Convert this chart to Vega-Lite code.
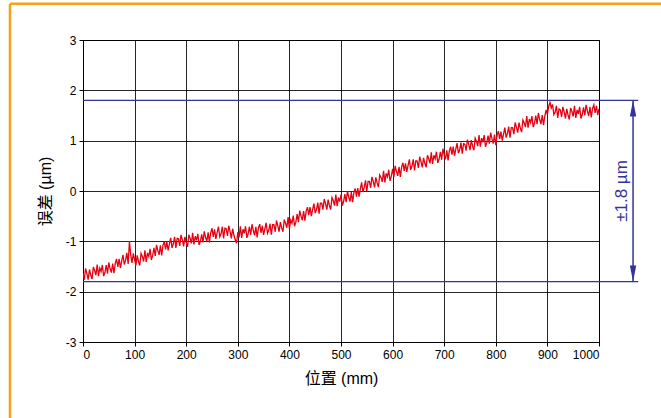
{
  "$schema": "https://vega.github.io/schema/vega-lite/v6.json",
  "width": 516,
  "height": 302,
  "autosize": {"type": "none"},
  "padding": {"left": 83, "top": 40, "right": 62, "bottom": 76},
  "background": "white",
  "config": {
    "view": {"stroke": "#000000", "strokeWidth": 1},
    "font": "Liberation Sans",
    "axis": {
      "grid": true,
      "gridColor": "#000000",
      "gridOpacity": 0.85,
      "gridWidth": 1,
      "domain": true,
      "domainColor": "#000000",
      "tickColor": "#000000",
      "tickSize": 4,
      "labelFont": "Liberation Sans",
      "labelFontSize": 12,
      "labelColor": "#000000",
      "labelExpr": "datum.value + ''",
      "titleFont": "Liberation Sans, Noto Sans CJK SC",
      "titleFontSize": 16,
      "titleFontWeight": "normal",
      "titleColor": "#000000"
    }
  },
  "datasets": {
    "curve": [
{"pos":0,"err":-1.63},{"pos":2.5,"err":-1.76},{"pos":5,"err":-1.54},{"pos":7.5,"err":-1.64},{"pos":10,"err":-1.76},{"pos":12.5,"err":-1.56},{"pos":15,"err":-1.67},{"pos":17.5,"err":-1.75},{"pos":20,"err":-1.51},{"pos":22.5,"err":-1.58},
{"pos":25,"err":-1.67},{"pos":27.5,"err":-1.46},{"pos":30,"err":-1.69},{"pos":32.5,"err":-1.53},{"pos":35,"err":-1.6},{"pos":37.5,"err":-1.47},{"pos":40,"err":-1.69},{"pos":42.5,"err":-1.62},{"pos":45,"err":-1.47},{"pos":47.5,"err":-1.64},
{"pos":50,"err":-1.42},{"pos":52.5,"err":-1.54},{"pos":55,"err":-1.62},{"pos":57.5,"err":-1.44},{"pos":60,"err":-1.63},{"pos":62.5,"err":-1.44},{"pos":65,"err":-1.35},{"pos":67.5,"err":-1.51},{"pos":70,"err":-1.35},{"pos":72.5,"err":-1.53},
{"pos":75,"err":-1.39},{"pos":77.5,"err":-1.27},{"pos":80,"err":-1.46},{"pos":82.5,"err":-1.38},{"pos":85,"err":-1.23},{"pos":87.5,"err":-1.45},{"pos":90,"err":-1.0},{"pos":92.5,"err":-1.27},{"pos":95,"err":-1.43},{"pos":97.5,"err":-1.24},
{"pos":100,"err":-1.36},{"pos":102.5,"err":-1.48},{"pos":105,"err":-1.28},{"pos":107.5,"err":-1.4},{"pos":110,"err":-1.48},{"pos":112.5,"err":-1.24},{"pos":115,"err":-1.3},{"pos":117.5,"err":-1.4},{"pos":120,"err":-1.18},{"pos":122.5,"err":-1.41},
{"pos":125,"err":-1.23},{"pos":127.5,"err":-1.3},{"pos":130,"err":-1.15},{"pos":132.5,"err":-1.37},{"pos":135,"err":-1.28},{"pos":137.5,"err":-1.13},{"pos":140,"err":-1.29},{"pos":142.5,"err":-1.07},{"pos":145,"err":-1.18},{"pos":147.5,"err":-1.27},
{"pos":150,"err":-1.08},{"pos":152.5,"err":-1.28},{"pos":155,"err":-1.08},{"pos":157.5,"err":-1.0},{"pos":160,"err":-1.16},{"pos":162.5,"err":-1.01},{"pos":165,"err":-1.18},{"pos":167.5,"err":-1.05},{"pos":170,"err":-0.93},{"pos":172.5,"err":-1.13},
{"pos":175,"err":-1.05},{"pos":177.5,"err":-0.91},{"pos":180,"err":-1.13},{"pos":182.5,"err":-0.94},{"pos":185,"err":-0.95},{"pos":187.5,"err":-1.09},{"pos":190,"err":-0.87},{"pos":192.5,"err":-0.97},{"pos":195,"err":-1.1},{"pos":197.5,"err":-0.91},
{"pos":200,"err":-1.02},{"pos":202.5,"err":-1.11},{"pos":205,"err":-0.87},{"pos":207.5,"err":-0.94},{"pos":210,"err":-1.04},{"pos":212.5,"err":-0.83},{"pos":215,"err":-1.06},{"pos":217.5,"err":-0.9},{"pos":220,"err":-0.98},{"pos":222.5,"err":-0.85},
{"pos":225,"err":-1.07},{"pos":227.5,"err":-1.0},{"pos":230,"err":-0.86},{"pos":232.5,"err":-1.02},{"pos":235,"err":-0.8},{"pos":237.5,"err":-0.92},{"pos":240,"err":-1.0},{"pos":242.5,"err":-0.82},{"pos":245,"err":-1.02},{"pos":247.5,"err":-0.83},
{"pos":250,"err":-0.74},{"pos":252.5,"err":-0.91},{"pos":255,"err":-0.76},{"pos":257.5,"err":-0.95},{"pos":260,"err":-0.82},{"pos":262.5,"err":-0.71},{"pos":265,"err":-0.91},{"pos":267.5,"err":-0.85},{"pos":270,"err":-0.71},{"pos":272.5,"err":-0.94},
{"pos":275,"err":-0.74},{"pos":277.5,"err":-0.75},{"pos":280,"err":-0.89},{"pos":282.5,"err":-0.69},{"pos":285,"err":-0.8},{"pos":287.5,"err":-0.94},{"pos":290,"err":-0.75},{"pos":292.5,"err":-0.88},{"pos":295,"err":-0.97},{"pos":297.5,"err":-1.04},
{"pos":300,"err":-0.82},{"pos":302.5,"err":-0.92},{"pos":305,"err":-0.7},{"pos":307.5,"err":-0.93},{"pos":310,"err":-0.76},{"pos":312.5,"err":-0.84},{"pos":315,"err":-0.7},{"pos":317.5,"err":-0.93},{"pos":320,"err":-0.85},{"pos":322.5,"err":-0.71},
{"pos":325,"err":-0.87},{"pos":327.5,"err":-0.66},{"pos":330,"err":-0.78},{"pos":332.5,"err":-0.88},{"pos":335,"err":-0.71},{"pos":337.5,"err":-0.92},{"pos":340,"err":-0.73},{"pos":342.5,"err":-0.66},{"pos":345,"err":-0.83},{"pos":347.5,"err":-0.69},
{"pos":350,"err":-0.87},{"pos":352.5,"err":-0.75},{"pos":355,"err":-0.63},{"pos":357.5,"err":-0.84},{"pos":360,"err":-0.78},{"pos":362.5,"err":-0.65},{"pos":365,"err":-0.87},{"pos":367.5,"err":-0.67},{"pos":370,"err":-0.67},{"pos":372.5,"err":-0.81},
{"pos":375,"err":-0.59},{"pos":377.5,"err":-0.69},{"pos":380,"err":-0.81},{"pos":382.5,"err":-0.62},{"pos":385,"err":-0.73},{"pos":387.5,"err":-0.81},{"pos":390,"err":-0.57},{"pos":392.5,"err":-0.64},{"pos":395,"err":-0.73},{"pos":397.5,"err":-0.52},
{"pos":400,"err":-0.75},{"pos":402.5,"err":-0.58},{"pos":405,"err":-0.64},{"pos":407.5,"err":-0.49},{"pos":410,"err":-0.7},{"pos":412.5,"err":-0.62},{"pos":415,"err":-0.46},{"pos":417.5,"err":-0.62},{"pos":420,"err":-0.39},{"pos":422.5,"err":-0.5},
{"pos":425,"err":-0.58},{"pos":427.5,"err":-0.4},{"pos":430,"err":-0.59},{"pos":432.5,"err":-0.4},{"pos":435,"err":-0.32},{"pos":437.5,"err":-0.48},{"pos":440,"err":-0.32},{"pos":442.5,"err":-0.5},{"pos":445,"err":-0.37},{"pos":447.5,"err":-0.25},
{"pos":450,"err":-0.44},{"pos":452.5,"err":-0.37},{"pos":455,"err":-0.23},{"pos":457.5,"err":-0.45},{"pos":460,"err":-0.24},{"pos":462.5,"err":-0.24},{"pos":465,"err":-0.37},{"pos":467.5,"err":-0.16},{"pos":470,"err":-0.25},{"pos":472.5,"err":-0.37},
{"pos":475,"err":-0.17},{"pos":477.5,"err":-0.29},{"pos":480,"err":-0.37},{"pos":482.5,"err":-0.13},{"pos":485,"err":-0.19},{"pos":487.5,"err":-0.29},{"pos":490,"err":-0.07},{"pos":492.5,"err":-0.3},{"pos":495,"err":-0.13},{"pos":497.5,"err":-0.21},
{"pos":500,"err":-0.07},{"pos":502.5,"err":-0.29},{"pos":505,"err":-0.21},{"pos":507.5,"err":-0.06},{"pos":510,"err":-0.22},{"pos":512.5,"err":0.0},{"pos":515,"err":-0.12},{"pos":517.5,"err":-0.21},{"pos":520,"err":-0.02},{"pos":522.5,"err":-0.22},
{"pos":525,"err":-0.03},{"pos":527.5,"err":0.05},{"pos":530,"err":-0.11},{"pos":532.5,"err":0.06},{"pos":535,"err":-0.11},{"pos":537.5,"err":0.04},{"pos":540,"err":0.17},{"pos":542.5,"err":-0.02},{"pos":545,"err":0.07},{"pos":547.5,"err":0.21},
{"pos":550,"err":-0.01},{"pos":552.5,"err":0.19},{"pos":555,"err":0.19},{"pos":557.5,"err":0.06},{"pos":560,"err":0.28},{"pos":562.5,"err":0.19},{"pos":565,"err":0.07},{"pos":567.5,"err":0.27},{"pos":570,"err":0.16},{"pos":572.5,"err":0.08},
{"pos":575,"err":0.32},{"pos":577.5,"err":0.27},{"pos":580,"err":0.18},{"pos":582.5,"err":0.4},{"pos":585,"err":0.17},{"pos":587.5,"err":0.35},{"pos":590,"err":0.28},{"pos":592.5,"err":0.42},{"pos":595,"err":0.2},{"pos":597.5,"err":0.29},
{"pos":600,"err":0.44},{"pos":602.5,"err":0.28},{"pos":605,"err":0.5},{"pos":607.5,"err":0.39},{"pos":610,"err":0.3},{"pos":612.5,"err":0.48},{"pos":615,"err":0.28},{"pos":617.5,"err":0.48},{"pos":620,"err":0.56},{"pos":622.5,"err":0.4},
{"pos":625,"err":0.55},{"pos":627.5,"err":0.38},{"pos":630,"err":0.51},{"pos":632.5,"err":0.63},{"pos":635,"err":0.42},{"pos":637.5,"err":0.49},{"pos":640,"err":0.63},{"pos":642.5,"err":0.41},{"pos":645,"err":0.6},{"pos":647.5,"err":0.6},
{"pos":650,"err":0.46},{"pos":652.5,"err":0.68},{"pos":655,"err":0.59},{"pos":657.5,"err":0.47},{"pos":660,"err":0.66},{"pos":662.5,"err":0.55},{"pos":665,"err":0.47},{"pos":667.5,"err":0.71},{"pos":670,"err":0.64},{"pos":672.5,"err":0.55},
{"pos":675,"err":0.77},{"pos":677.5,"err":0.54},{"pos":680,"err":0.71},{"pos":682.5,"err":0.64},{"pos":685,"err":0.78},{"pos":687.5,"err":0.56},{"pos":690,"err":0.63},{"pos":692.5,"err":0.78},{"pos":695,"err":0.62},{"pos":697.5,"err":0.84},
{"pos":700,"err":0.72},{"pos":702.5,"err":0.63},{"pos":705,"err":0.81},{"pos":707.5,"err":0.61},{"pos":710,"err":0.8},{"pos":712.5,"err":0.88},{"pos":715,"err":0.72},{"pos":717.5,"err":0.88},{"pos":720,"err":0.7},{"pos":722.5,"err":0.83},
{"pos":725,"err":0.95},{"pos":727.5,"err":0.75},{"pos":730,"err":0.82},{"pos":732.5,"err":0.96},{"pos":735,"err":0.74},{"pos":737.5,"err":0.94},{"pos":740,"err":0.93},{"pos":742.5,"err":0.8},{"pos":745,"err":1.02},{"pos":747.5,"err":0.93},
{"pos":750,"err":0.81},{"pos":752.5,"err":1.01},{"pos":755,"err":0.89},{"pos":757.5,"err":0.81},{"pos":760,"err":1.05},{"pos":762.5,"err":0.99},{"pos":765,"err":0.89},{"pos":767.5,"err":1.11},{"pos":770,"err":0.88},{"pos":772.5,"err":1.05},
{"pos":775,"err":0.97},{"pos":777.5,"err":1.11},{"pos":780,"err":0.88},{"pos":782.5,"err":0.96},{"pos":785,"err":1.1},{"pos":787.5,"err":0.94},{"pos":790,"err":1.16},{"pos":792.5,"err":1.04},{"pos":795,"err":0.94},{"pos":797.5,"err":1.12},
{"pos":800,"err":0.91},{"pos":802.5,"err":1.11},{"pos":805,"err":1.19},{"pos":807.5,"err":1.03},{"pos":810,"err":1.18},{"pos":812.5,"err":1.0},{"pos":815,"err":1.13},{"pos":817.5,"err":1.26},{"pos":820,"err":1.06},{"pos":822.5,"err":1.14},
{"pos":825,"err":1.28},{"pos":827.5,"err":1.06},{"pos":830,"err":1.26},{"pos":832.5,"err":1.26},{"pos":835,"err":1.13},{"pos":837.5,"err":1.36},{"pos":840,"err":1.27},{"pos":842.5,"err":1.16},{"pos":845,"err":1.36},{"pos":847.5,"err":1.25},
{"pos":850,"err":1.17},{"pos":852.5,"err":1.41},{"pos":855,"err":1.35},{"pos":857.5,"err":1.27},{"pos":860,"err":1.49},{"pos":862.5,"err":1.26},{"pos":865,"err":1.43},{"pos":867.5,"err":1.36},{"pos":870,"err":1.49},{"pos":872.5,"err":1.27},
{"pos":875,"err":1.35},{"pos":877.5,"err":1.5},{"pos":880,"err":1.33},{"pos":882.5,"err":1.55},{"pos":885,"err":1.42},{"pos":887.5,"err":1.33},{"pos":890,"err":1.51},{"pos":892.5,"err":1.31},{"pos":895,"err":1.49},{"pos":897.5,"err":1.61},
{"pos":900,"err":1.52},{"pos":902.5,"err":1.68},{"pos":905,"err":1.76},{"pos":907.5,"err":1.65},{"pos":910,"err":1.72},{"pos":912.5,"err":1.52},{"pos":915,"err":1.57},{"pos":917.5,"err":1.69},{"pos":920,"err":1.45},{"pos":922.5,"err":1.63},
{"pos":925,"err":1.61},{"pos":927.5,"err":1.47},{"pos":930,"err":1.67},{"pos":932.5,"err":1.57},{"pos":935,"err":1.44},{"pos":937.5,"err":1.63},{"pos":940,"err":1.51},{"pos":942.5,"err":1.42},{"pos":945,"err":1.65},{"pos":947.5,"err":1.58},
{"pos":950,"err":1.48},{"pos":952.5,"err":1.69},{"pos":955,"err":1.45},{"pos":957.5,"err":1.61},{"pos":960,"err":1.53},{"pos":962.5,"err":1.67},{"pos":965,"err":1.44},{"pos":967.5,"err":1.52},{"pos":970,"err":1.66},{"pos":972.5,"err":1.5},
{"pos":975,"err":1.71},{"pos":977.5,"err":1.59},{"pos":980,"err":1.49},{"pos":982.5,"err":1.67},{"pos":985,"err":1.46},{"pos":987.5,"err":1.64},{"pos":990,"err":1.71},{"pos":992.5,"err":1.55},{"pos":995,"err":1.69},{"pos":997.5,"err":1.51},
{"pos":1000,"err":1.63}
    ],
    "limits": [{"lim": 1.8, "x0": 0, "x1": 1076}, {"lim": -1.8, "x0": 0, "x1": 1076}],
    "arrow": [{"xa": 1066, "top": 1.8, "bot": -1.8, "mid": 0, "xt": 1044, "label": "±1.8 µm"}],
    "frame": [{"fx": -141.5, "fy0": 3.72, "fy1": -4.6, "fx1": 1130}]
  },
  "layer": [
    {
      "data": {"name": "curve"},
      "mark": {"type": "line", "color": "#e60012", "strokeWidth": 1.3, "clip": true},
      "encoding": {
        "x": {
          "field": "pos", "type": "quantitative",
          "scale": {"domain": [0, 1000], "nice": false},
          "axis": {"values": [0, 100, 200, 300, 400, 500, 600, 700, 800, 900, 1000], "title": "位置 (mm)", "titlePadding": 10, "labelPadding": 3}
        },
        "y": {
          "field": "err", "type": "quantitative",
          "scale": {"domain": [-3, 3], "nice": false},
          "axis": {"values": [-3, -2, -1, 0, 1, 2, 3], "title": "误差 (µm)", "titlePadding": 12, "labelPadding": 3}
        }
      }
    },
    {
      "data": {"name": "limits"},
      "mark": {"type": "rule", "color": "#33339a", "strokeWidth": 1.2, "clip": false},
      "encoding": {
        "x": {"field": "x0", "type": "quantitative"},
        "x2": {"field": "x1"},
        "y": {"field": "lim", "type": "quantitative"}
      }
    },
    {
      "data": {"name": "arrow"},
      "mark": {"type": "rule", "color": "#33339a", "strokeWidth": 1.5, "clip": false},
      "encoding": {
        "x": {"field": "xa", "type": "quantitative"},
        "y": {"field": "top", "type": "quantitative"},
        "y2": {"field": "bot"}
      }
    },
    {
      "data": {"name": "arrow"},
      "mark": {"type": "point", "shape": "M0,0L0.2,1L-0.2,1Z", "size": 1024, "filled": true, "color": "#33339a", "opacity": 1, "clip": false},
      "encoding": {
        "x": {"field": "xa", "type": "quantitative"},
        "y": {"field": "top", "type": "quantitative"}
      }
    },
    {
      "data": {"name": "arrow"},
      "mark": {"type": "point", "shape": "M0,0L0.2,-1L-0.2,-1Z", "size": 1024, "filled": true, "color": "#33339a", "opacity": 1, "clip": false},
      "encoding": {
        "x": {"field": "xa", "type": "quantitative"},
        "y": {"field": "bot", "type": "quantitative"}
      }
    },
    {
      "data": {"name": "arrow"},
      "mark": {"type": "text", "angle": 270, "align": "center", "baseline": "middle", "fontSize": 17, "font": "Liberation Sans", "color": "#33339a", "clip": false},
      "encoding": {
        "x": {"field": "xt", "type": "quantitative"},
        "y": {"field": "mid", "type": "quantitative"},
        "text": {"field": "label"}
      }
    },
    {
      "data": {"name": "frame"},
      "mark": {"type": "rule", "color": "#f5a31a", "strokeWidth": 2.5, "clip": false},
      "encoding": {
        "x": {"field": "fx", "type": "quantitative"},
        "y": {"field": "fy0", "type": "quantitative"},
        "y2": {"field": "fy1"}
      }
    },
    {
      "data": {"name": "frame"},
      "mark": {"type": "rule", "color": "#f5a31a", "strokeWidth": 2.5, "clip": false},
      "encoding": {
        "x": {"field": "fx", "type": "quantitative"},
        "x2": {"field": "fx1"},
        "y": {"field": "fy0", "type": "quantitative"}
      }
    }
  ]
}
